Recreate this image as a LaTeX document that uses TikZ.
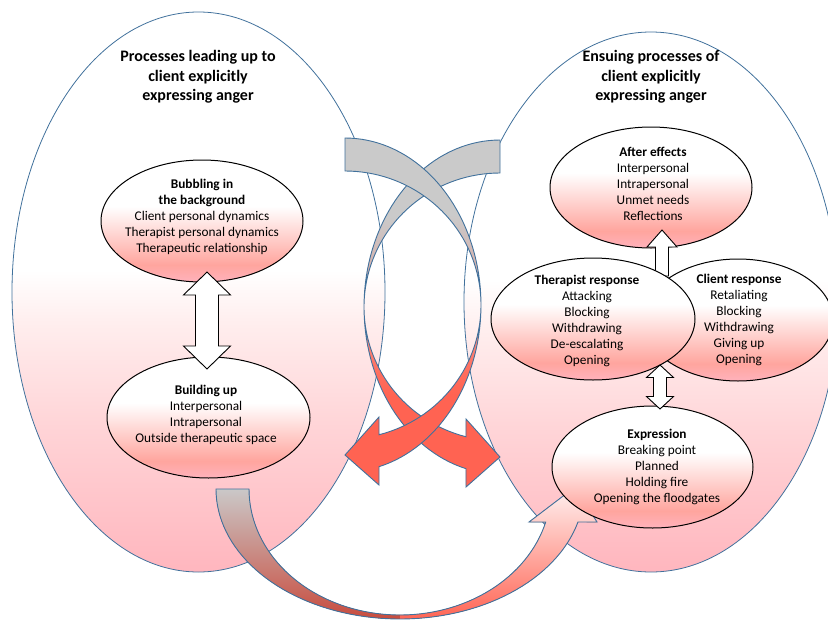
\documentclass[tikz,border=0pt]{standalone}
\usepackage{fontspec}
\setmainfont{Carlito}
\usetikzlibrary{shapes.geometric}

\definecolor{outline}{RGB}{65,113,156}
\definecolor{bigpinkb}{RGB}{255,182,190}
\definecolor{bigpinkm}{RGB}{255,212,215}
\definecolor{bigpinkl}{RGB}{255,237,237}
\definecolor{ovalpinkb}{RGB}{255,178,188}
\definecolor{ovalsalmon}{RGB}{255,165,158}
\definecolor{bandgrey}{RGB}{202,202,202}
\definecolor{bandmix}{RGB}{214,176,171}
\definecolor{bandpink}{RGB}{250,150,140}
\definecolor{bandlight}{RGB}{255,108,92}
\definecolor{bandred}{RGB}{255,99,82}
\definecolor{cdark}{RGB}{200,74,60}
\definecolor{cmidl}{RGB}{200,150,145}
\definecolor{cwhite}{RGB}{255,244,244}
\definecolor{cmidr}{RGB}{255,178,168}

\pgfdeclareverticalshading{bigpink}{100bp}{color(0bp)=(bigpinkb); color(25bp)=(bigpinkb); color(38bp)=(bigpinkm); color(47bp)=(bigpinkl); color(52bp)=(white); color(100bp)=(white)}
\pgfdeclareverticalshading{ovalpink}{100bp}{color(0bp)=(ovalpinkb); color(25bp)=(ovalpinkb); color(32bp)=(ovalsalmon); color(56bp)=(white); color(100bp)=(white)}
\pgfdeclareverticalshading{greyred}{100bp}{color(0bp)=(bandred); color(38bp)=(bandred); color(41bp)=(bandlight); color(49bp)=(bandpink); color(56bp)=(bandmix); color(64bp)=(bandgrey); color(100bp)=(bandgrey)}

\tikzset{
  bigoval/.style={draw=outline, line width=0.8pt, shading=bigpink},
  oval/.style={ellipse, draw=black, line width=1pt, shading=ovalpink, inner sep=0pt},
  title/.style={align=center, inner sep=0pt, font=\bfseries\fontsize{16}{19.5}\selectfont},
  otext/.style={align=center, inner sep=0pt, font=\fontsize{13.3}{16}\selectfont},
  band/.style={draw=outline, line width=0.9pt},
  blockarrow/.style={draw=black, line width=0.9pt, fill=white, line join=miter}
}

% curved arrow under the two main ovals
\def\arrowcpath{(216,489) -- plot[domain=180:14.7, samples=70, variable=\t] ({400+184*cos(\t)},{489+130*sin(\t)})
  -- (597,522) -- (575,487) -- (529,522) -- (546,522)
  -- plot[domain=15.2:180, samples=70, variable=\t] ({400+151*cos(\t)},{489+126*sin(\t)}) -- cycle}

\begin{document}
\begin{tikzpicture}[x=1pt, y=-1pt]
\useasboundingbox (0,0) rectangle (828,619);

\path[bigoval] (198.5,292) ellipse [x radius=186.5, y radius=280];
\path[bigoval] (651,302) ellipse [x radius=187, y radius=270];

\node[title] (lefttitle) at (198,77) {Processes leading up to\\client explicitly\\expressing anger};
\node[title] (righttitle) at (651,77) {Ensuing processes of\\client explicitly\\expressing anger};

% crossing arrows
\path[band, shading=greyred] (500,140) -- plot[domain=270:104.5, samples=70, variable=\t] ({500+136*cos(\t)},{307+167*sin(\t)})
  -- (466,487) -- (500,457) -- (466,419)
  -- plot[domain=104.5:270, samples=70, variable=\t] ({500+136*cos(\t)},{307+134*sin(\t)}) -- cycle;
\path[band, shading=greyred] (345,138) -- plot[domain=-90:75.5, samples=70, variable=\t] ({345+136*cos(\t)},{305+167*sin(\t)})
  -- (379,485) -- (345,455) -- (379,417)
  -- plot[domain=75.5:-90, samples=70, variable=\t] ({345+136*cos(\t)},{305+134*sin(\t)}) -- cycle;

\begin{scope}
  \clip \arrowcpath;
  \fill[top color=bandgrey, middle color=cmidl, bottom color=cdark] (200,487) rectangle (400,621);
  \fill[top color=cwhite, middle color=cmidr, bottom color=bandred] (400,485) rectangle (600,621);
\end{scope}
\draw[band] \arrowcpath;

% ovals
\node[oval, minimum width=202pt, minimum height=122pt] (bubbling) at (202,221) {};
\node[otext] (bubblingtxt) at (202,217) {\textbf{Bubbling in}\\\textbf{the background}\\Client personal dynamics\\Therapist personal dynamics\\Therapeutic relationship};

\node[oval, minimum width=203pt, minimum height=121pt] (building) at (208.5,417.5) {};
\node[otext] (buildingtxt) at (206,414.5) {\textbf{Building up}\\Interpersonal\\Intrapersonal\\Outside therapeutic space};

\node[oval, minimum width=202pt, minimum height=121pt] (aftereff) at (651,187.5) {};
\node[otext] (aftereffttxt) at (653,184) {\textbf{After effects}\\Interpersonal\\Intrapersonal\\Unmet needs\\Reflections};

\draw[blockarrow] (662,230) -- (677,247) -- (668.5,247) -- (668.5,276) -- (655.5,276) -- (655.5,247) -- (647,247) -- cycle;

\node[oval, minimum width=190pt, minimum height=122pt] (client) at (738,320) {};
\node[otext] (clienttxt) at (739,320) {\textbf{Client response}\\Retaliating\\Blocking\\Withdrawing\\Giving up\\Opening};

\node[oval, minimum width=204pt, minimum height=122pt] (therapist) at (593,319) {};
\node[otext] (therapisttxt) at (587,321) {\textbf{Therapist response}\\Attacking\\Blocking\\Withdrawing\\De-escalating\\Opening};

\node[oval, minimum width=201pt, minimum height=122pt] (expression) at (652.5,467) {};
\node[otext] (expressiontxt) at (657,467) {\textbf{Expression}\\Breaking point\\Planned\\Holding fire\\Opening the floodgates};

% block arrows between ovals
\draw[blockarrow] (207,272) -- (230.5,295) -- (218.5,295) -- (218.5,346) -- (230.5,346) -- (207,369)
  -- (183.5,346) -- (195.5,346) -- (195.5,295) -- (183.5,295) -- cycle;
\draw[blockarrow] (660,365) -- (673.5,377.5) -- (666.5,377.5) -- (666.5,396.5) -- (673.5,396.5) -- (660,409)
  -- (646.5,396.5) -- (653.5,396.5) -- (653.5,377.5) -- (646.5,377.5) -- cycle;
\end{tikzpicture}
\end{document}
